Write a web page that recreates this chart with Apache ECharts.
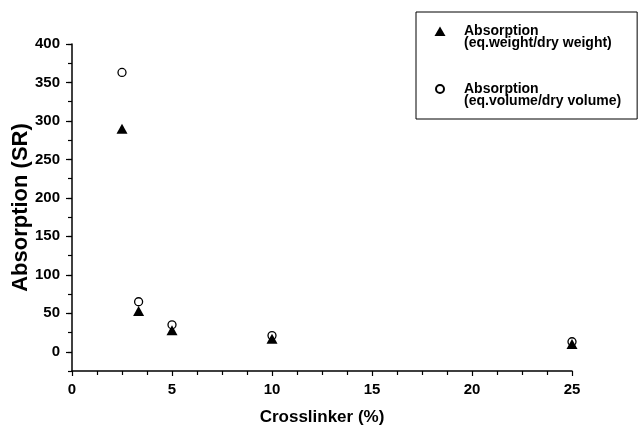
<!DOCTYPE html>
<html>
<head>
<meta charset="utf-8">
<script src="https://cdn.jsdelivr.net/npm/echarts@6/dist/echarts.min.js"></script>
<style>
  html, body { margin: 0; padding: 0; background: #fff; }
  .chart { width: 639px; height: 431px; }
</style>
</head>
<body>
<div class="chart"></div>
<script>
// 数据
var crosslinker = [2.5, 3.33, 5, 10, 25];
var weightRatio = [290, 53, 28, 17, 10];
var volumeRatio = [363, 65, 35, 21, 13];
var yMajorTicks = [0, 50, 100, 150, 200, 250, 300, 350, 400];
var seriesNames = ['Absorption\n(eq.weight/dry weight)', 'Absorption\n(eq.volume/dry volume)'];

var font = '"Liberation Sans", Arial, sans-serif';

function pairs(xs, ys) {
    return xs.map(function (x, i) { return [x, ys[i]]; });
}

var myChart = echarts.init(document.querySelector('.chart'));
var option = {
    backgroundColor: '#fff',
    animation: false,
    grid: {
        left: 72,
        right: 67,
        top: 44,
        bottom: 57,
    },
    legend: {
        orient: 'vertical',
        left: 416,
        top: 12,
        padding: [0, 16, 11, 17],
        itemGap: 20,
        itemWidth: 12,
        itemHeight: 12,
        borderColor: '#000',
        borderWidth: 1,
        selectedMode: false,
        // 空的第一行让图标对齐到第一行文字
        formatter: function (name) { return ' \n' + name; },
        textStyle: {
            fontFamily: font,
            fontWeight: 'bold',
            fontSize: 14,
            lineHeight: 12,
            color: '#000',
            padding: [0, 0, 0, 13],
        },
        data: [
            { name: seriesNames[0], icon: 'path://M0 0 M12 12 M6 1.5 L11.5 11 L0.5 11 Z' },
            { name: seriesNames[1], icon: 'path://M0 0 M12 12 M6 2 A4 4 0 1 1 6 10 A4 4 0 1 1 6 2 Z' }
        ],
    },
    xAxis: {
        type: 'value',
        min: 0,
        max: 25,
        interval: 5,
        name: 'Crosslinker (%)',
        nameLocation: 'middle',
        nameGap: 38,
        nameTextStyle: { fontFamily: font, fontWeight: 'bold', fontSize: 17, color: '#000' },
        splitLine: { show: false },
        axisLine: { onZero: false, lineStyle: { color: '#000', width: 1.5 } },
        axisTick: { length: 5, lineStyle: { color: '#000', width: 1.2 } },
        minorTick: { show: true, splitNumber: 4, length: 4, lineStyle: { color: '#000', width: 1.2 } },
        axisLabel: { margin: 11, fontFamily: font, fontWeight: 'bold', fontSize: 15, color: '#000' },
    },
    yAxis: [{
        type: 'value',
        min: -25,
        max: 400,
        interval: 25,
        name: 'Absorption (SR)',
        nameLocation: 'middle',
        nameGap: 40,
        nameTextStyle: { fontFamily: font, fontWeight: 'bold', fontSize: 22, color: '#000' },
        splitLine: { show: false },
        axisLine: { onZero: false, lineStyle: { color: '#000', width: 1.5 } },
        axisTick: { length: 4, lineStyle: { color: '#000', width: 1.2 } },
        axisLabel: { show: false },
    }, {
        type: 'value',
        position: 'left',
        min: -25,
        max: 400,
        interval: 25,
        splitLine: { show: false },
        axisLine: { show: false },
        axisTick: { length: 6, customValues: yMajorTicks, lineStyle: { color: '#000', width: 1.2 } },
        axisLabel: { margin: 12, customValues: yMajorTicks, fontFamily: font, fontWeight: 'bold', fontSize: 15, color: '#000' },
    }],
    series: [{
        name: seriesNames[0],
        type: 'scatter',
        symbol: 'triangle',
        symbolSize: [11, 10],
        z: 3,
        itemStyle: { color: '#000', opacity: 1 },
        data: pairs(crosslinker, weightRatio),
    }, {
        name: seriesNames[1],
        type: 'scatter',
        symbol: 'circle',
        symbolSize: 8,
        z: 2,
        itemStyle: { color: '#fff', borderColor: '#000', borderWidth: 1.3, opacity: 1 },
        data: pairs(crosslinker, volumeRatio),
    }]
};

myChart.setOption(option);
</script>
</body>
</html>
